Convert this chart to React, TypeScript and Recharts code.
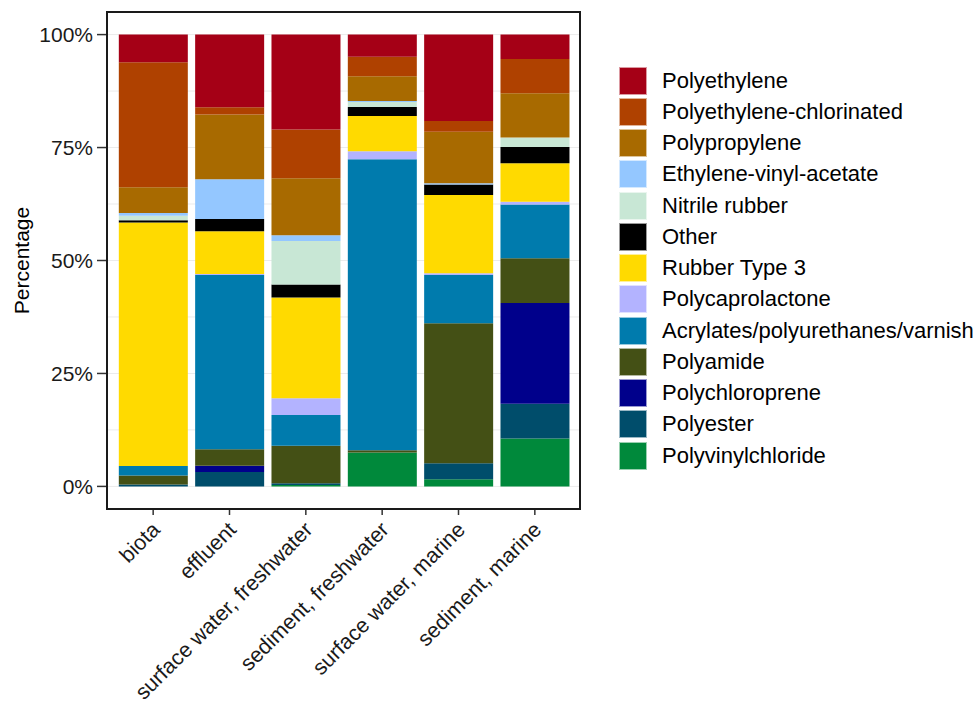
import { BarChart, Bar, XAxis, YAxis, CartesianGrid } from 'recharts';

// sample compartments
const categories = [
  'biota',
  'effluent',
  'surface water, freshwater',
  'sediment, freshwater',
  'surface water, marine',
  'sediment, marine',
];

// percentages per polymer, same order as categories
const polyethylene = [6.1, 16.1, 21.0, 4.9, 19.1, 5.4];
const polyethyleneChlorinated = [27.7, 1.6, 10.8, 4.3, 2.4, 7.6];
const polypropylene = [5.7, 14.3, 12.6, 5.5, 11.4, 9.8];
const ethyleneVinylAcetate = [0.6, 8.8, 1.3, 0.2, 0.3, 0];
const nitrileRubber = [1.0, 0, 9.6, 1.1, 0, 2.1];
const other = [0.5, 2.7, 2.9, 2.0, 2.3, 3.6];
const rubberType3 = [53.9, 9.5, 22.3, 7.8, 17.3, 8.5];
const polycaprolactone = [0, 0.2, 3.7, 1.8, 0.4, 0.6];
const acrylates = [2.1, 38.6, 6.8, 64.4, 10.7, 11.9];
const polyamide = [2.0, 3.6, 8.3, 0.5, 31.0, 9.9];
const polychloroprene = [0, 1.4, 0, 0, 0, 22.3];
const polyester = [0.4, 3.2, 0.4, 0, 3.5, 7.7];
const polyvinylchloride = [0, 0, 0.3, 7.5, 1.6, 10.6];

const yTicks = [0, 25, 50, 75, 100];
const gridValues = [0, 12.5, 25, 37.5, 50, 62.5, 75, 87.5, 100];

// legend order (top to bottom)
const series = [
  { key: 'Polyethylene', values: polyethylene, color: '#A50016' },
  { key: 'Polyethylene-chlorinated', values: polyethyleneChlorinated, color: '#AF4100' },
  { key: 'Polypropylene', values: polypropylene, color: '#A86A00' },
  { key: 'Ethylene-vinyl-acetate', values: ethyleneVinylAcetate, color: '#94C7FF' },
  { key: 'Nitrile rubber', values: nitrileRubber, color: '#C8E7D5' },
  { key: 'Other', values: other, color: '#000000' },
  { key: 'Rubber Type 3', values: rubberType3, color: '#FFDA00' },
  { key: 'Polycaprolactone', values: polycaprolactone, color: '#B3B3FF' },
  { key: 'Acrylates/polyurethanes/varnish', values: acrylates, color: '#007BAD' },
  { key: 'Polyamide', values: polyamide, color: '#445015' },
  { key: 'Polychloroprene', values: polychloroprene, color: '#00008B' },
  { key: 'Polyester', values: polyester, color: '#004D6B' },
  { key: 'Polyvinylchloride', values: polyvinylchloride, color: '#00893B' },
];

const data = categories.map((name, i) => {
  const row: Record<string, string | number> = { name };
  series.forEach((s) => {
    row[s.key] = s.values[i];
  });
  return row;
});

const FONT = '"Liberation Sans", Arial, sans-serif';

const XTick = (props: any) => {
  const { x, y, payload } = props;
  const tx = x + 8;
  const ty = y + 14;
  return (
    <text
      x={tx}
      y={ty}
      transform={`rotate(-45, ${tx}, ${ty})`}
      textAnchor="end"
      fontSize={21.5}
      fill="#1a1a1a"
      fontFamily={FONT}
    >
      {payload.value}
    </text>
  );
};

const YLabel = (props: any) => {
  const vb = props.viewBox ?? { x: 0, y: 12, width: 107, height: 497 };
  const cx = 29;
  const cy = vb.y + vb.height / 2;
  return (
    <text
      x={cx}
      y={cy}
      transform={`rotate(-90, ${cx}, ${cy})`}
      textAnchor="middle"
      fontSize={21}
      fill="#000"
      fontFamily={FONT}
    >
      Percentage
    </text>
  );
};

export default function App() {
  return (
    <div
      style={{
        position: 'absolute',
        left: 0,
        top: 0,
        width: 976,
        height: 705,
        background: '#fff',
        fontFamily: FONT,
      }}
    >
      <BarChart
        width={976}
        height={705}
        data={data}
        margin={{ top: 12, right: 396, bottom: 0, left: 0 }}
        barCategoryGap="5%"
      >
        <CartesianGrid
          vertical={false}
          horizontalValues={gridValues}
          stroke="#EBEBEB"
          strokeWidth={1}
        />
        <XAxis
          dataKey="name"
          height={196}
          interval={0}
          padding={{ left: 8, right: 7 }}
          tick={<XTick />}
          tickSize={6}
          tickLine={{ stroke: '#333', strokeWidth: 1.5 }}
          axisLine={{ stroke: '#1a1a1a', strokeWidth: 2 }}
        />
        <YAxis
          width={107}
          domain={[-5, 105]}
          ticks={yTicks}
          allowDataOverflow
          tickFormatter={(v) => `${v}%`}
          tick={{ fontSize: 21, fill: '#1a1a1a', fontFamily: FONT }}
          tickSize={10}
          tickMargin={4}
          tickLine={{ stroke: '#333', strokeWidth: 1.5 }}
          axisLine={{ stroke: '#1a1a1a', strokeWidth: 2 }}
          label={<YLabel />}
        />
        {[...series].reverse().map((s) => (
          <Bar
            key={s.key}
            dataKey={s.key}
            stackId="a"
            fill={s.color}
            isAnimationActive={false}
          />
        ))}
      </BarChart>
      {/* panel border */}
      <div
        style={{
          position: 'absolute',
          left: 106,
          top: 11,
          width: 475,
          height: 499,
          boxSizing: 'border-box',
          border: '2px solid #1a1a1a',
          pointerEvents: 'none',
        }}
      />
      <div style={{ position: 'absolute', left: 619, top: 65 }}>
        {series.map((s) => (
          <div
            key={s.key}
            style={{ display: 'flex', alignItems: 'center', height: 31.25 }}
          >
            <div
              style={{
                width: 28,
                height: 28,
                background: s.color,
                boxSizing: 'border-box',
                border: '1px solid rgba(255,255,255,0.6)',
              }}
            />
            <span
              style={{
                marginLeft: 15,
                fontSize: 22,
                color: '#000',
                whiteSpace: 'nowrap',
              }}
            >
              {s.key}
            </span>
          </div>
        ))}
      </div>
    </div>
  );
}
